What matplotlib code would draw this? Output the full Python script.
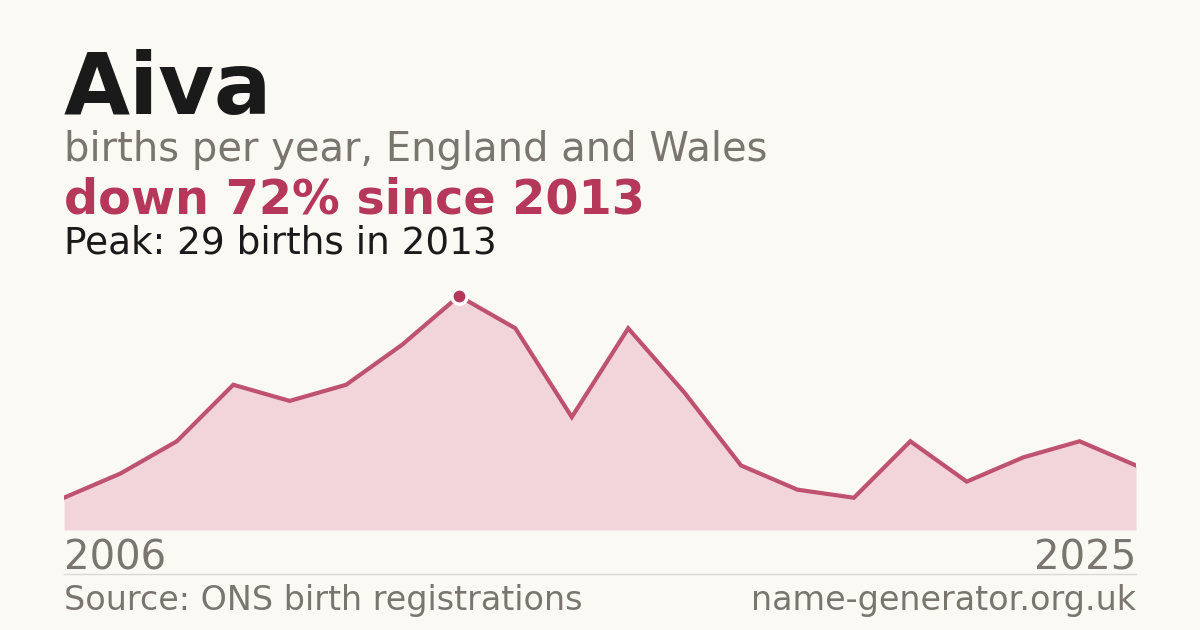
import matplotlib.pyplot as plt

# data
years = list(range(2006, 2026))
births = [4, 7, 11, 18, 16, 18, 23, 29, 25, 14, 25, 17, 8, 5, 4, 11, 6, 9, 11, 8]
peak_year = 2013
peak_value = 29

bg = "#faf9f4"
red = "#b5375a"
fill = "#f2d5db"
grey = "#7a756e"

W, H = 1200, 630
fig = plt.figure(figsize=(W / 100, H / 100), dpi=100, facecolor=bg)

def fx(px):
    return px / W

def fy(py):
    return 1 - py / H

# chart area: 2006 at x=64, 2025 at x=1136, zero at y=530
ax = fig.add_axes([fx(64), fy(530), fx(1136) - fx(64), (530 - 290) / H])
ax.set_facecolor(bg)
ax.fill_between(years, births, 0, color=fill, lw=0)
ax.plot(years, births, color=red, lw=3.0, alpha=0.85, solid_joinstyle="miter")
ax.plot([peak_year], [peak_value], "o", ms=11, color=red, mec="white", mew=2.5, zorder=5)
ax.set_xlim(years[0], years[-1])
ax.set_ylim(0, peak_value * 240 / 234)
ax.axis("off")

# headings
fig.text(fx(64), fy(114), "Aiva", fontsize=61.5, fontweight="bold", color="#1a1a1a", va="baseline")
fig.text(fx(64), fy(161), "births per year, England and Wales", fontsize=28.8, color=grey, va="baseline")
fig.text(fx(64), fy(214), "down 72% since 2013", fontsize=34.4, fontweight="bold", color=red, va="baseline")
fig.text(fx(64), fy(254), "Peak: 29 births in 2013", fontsize=26.9, color="#1a1a1a", va="baseline")

# axis ends
fig.text(fx(64), fy(569), str(years[0]), fontsize=28.9, color=grey, va="baseline")
fig.text(fx(1136), fy(569), str(years[-1]), fontsize=28.9, color=grey, va="baseline", ha="right")

# footer
fig.add_artist(plt.Line2D([fx(64), fx(1136)], [fy(574), fy(574)], color="#dcd9d2", lw=1))
fig.text(fx(64), fy(610), "Source: ONS birth registrations", fontsize=24, color=grey, va="baseline")
fig.text(fx(1136), fy(610), "name-generator.org.uk", fontsize=24, color=grey, va="baseline", ha="right")

fig.savefig("out.png", dpi=100, facecolor=bg)
